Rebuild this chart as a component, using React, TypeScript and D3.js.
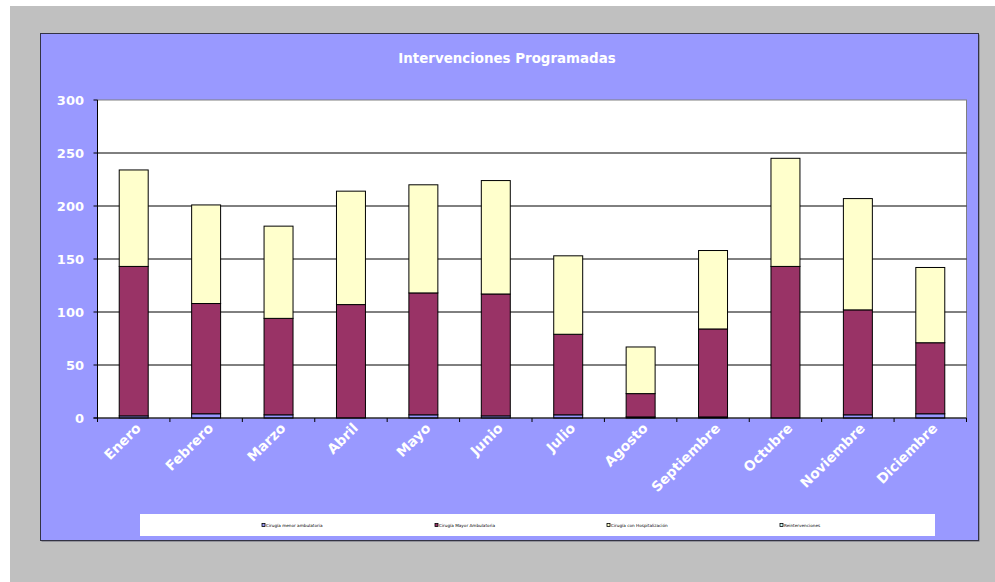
import React from "react";
import * as d3 from "d3";

const months = ["Enero","Febrero","Marzo","Abril","Mayo","Junio","Julio","Agosto","Septiembre","Octubre","Noviembre","Diciembre"];
const cirugiaMenor = [2,4,3,0,3,2,3,1,1,0,3,4];
const cirugiaMayor = [141,104,91,107,115,115,76,22,83,143,99,67];
const cirugiaHosp = [91,93,87,107,102,107,74,44,74,102,105,71];
const reintervenciones = [0,0,0,0,0,0,0,0,0,0,0,0];
const seriesNames = ["Cirugía menor ambulatoria","Cirugía Mayor Ambulatoria","Cirugía con Hospitalización","Reintervenciones"];
const seriesColors = ["#9999FF","#993366","#FFFFCC","#CCFFFF"];
const yTicks = [0,50,100,150,200,250,300];

export default function App() {
  const W = 995, H = 582;
  const plot = { x0: 97.5, x1: 966.5, y0: 100, y1: 418 };
  const x = d3.scaleBand<string>().domain(months).range([plot.x0, plot.x1]).paddingInner(0.6).paddingOuter(0.3);
  const xb = d3.scaleBand<string>().domain(months).range([plot.x0, plot.x1]);
  const y = d3.scaleLinear().domain([0, 300]).range([plot.y1, plot.y0]);
  const table = months.map((m, i) => ({ m, a: cirugiaMenor[i], b: cirugiaMayor[i], c: cirugiaHosp[i], d: reintervenciones[i] }));
  const stack = d3.stack<any>().keys(["a","b","c","d"])(table);
  const font = "'DejaVu Sans', Verdana, sans-serif";
  const legendX = [262, 435, 607, 780];
  return (
    <svg width={W} height={H} style={{ position: "absolute", left: 0, top: 0 }}>
      <rect x={0} y={0} width={W} height={H} fill="#ffffff" />
      <rect x={10} y={6} width={W - 10} height={H - 6} fill="#C0C0C0" />
      <rect x={41.5} y={34.5} width={938} height={507} fill="#666677" />
      <rect x={40.5} y={33.5} width={938} height={507} fill="#9999FF" stroke="#333344" strokeWidth={1} />
      <text x={507} y={63} textAnchor="middle" fill="#ffffff" fontFamily={font} fontWeight="bold" fontSize={13.4}>Intervenciones Programadas</text>
      <rect x={plot.x0} y={plot.y0} width={plot.x1 - plot.x0} height={plot.y1 - plot.y0} fill="#ffffff" stroke="#808080" strokeWidth={1} />
      {yTicks.map(t => (
        <g key={t}>
          {t > 0 && t < 300 && <line x1={plot.x0} x2={plot.x1} y1={y(t)} y2={y(t)} stroke="#000" strokeWidth={1} />}
          <line x1={plot.x0 - 4} x2={plot.x0} y1={y(t)} y2={y(t)} stroke="#000" />
          <text x={84} y={y(t) + 5} textAnchor="end" fill="#fff" fontFamily={font} fontWeight="bold" fontSize={13}>{t}</text>
        </g>
      ))}
      <line x1={plot.x0} x2={plot.x0} y1={plot.y0} y2={plot.y1} stroke="#000" />
      {stack.map((s, si) => (
        <g key={si}>
          {s.map((d, i) => {
            const h = y(d[0]) - y(d[1]);
            if (h <= 0) return null;
            return <rect key={i} x={x(months[i])!} y={y(d[1])} width={x.bandwidth()} height={h} fill={seriesColors[si]} stroke="#000" strokeWidth={1} />;
          })}
        </g>
      ))}
      <line x1={plot.x0 - 4} x2={plot.x1} y1={plot.y1} y2={plot.y1} stroke="#000" />
      {months.concat([""]).map((m, i) => {
        const xx = plot.x0 + i * xb.step();
        return <line key={i} x1={xx} x2={xx} y1={plot.y1} y2={plot.y1 + 4} stroke="#000" />;
      })}
      {months.map(m => {
        const cx = xb(m)! + xb.bandwidth() / 2;
        return (
          <text key={m} transform={`translate(${cx + 8},${plot.y1 + 11}) rotate(-45)`} textAnchor="end" fill="#fff" fontFamily={font} fontWeight="bold" fontSize={13.8}>{m}</text>
        );
      })}
      <rect x={140} y={514} width={795} height={22} fill="#ffffff" />
      {seriesNames.map((n, i) => (
        <g key={n}>
          <rect x={legendX[i]} y={523.5} width={3} height={3} fill={seriesColors[i]} stroke="#000" strokeWidth={0.8} />
          <text x={legendX[i] + 4} y={526.5} fontFamily={font} fontSize={4.2} fill="#000">{n}</text>
        </g>
      ))}
    </svg>
  );
}
